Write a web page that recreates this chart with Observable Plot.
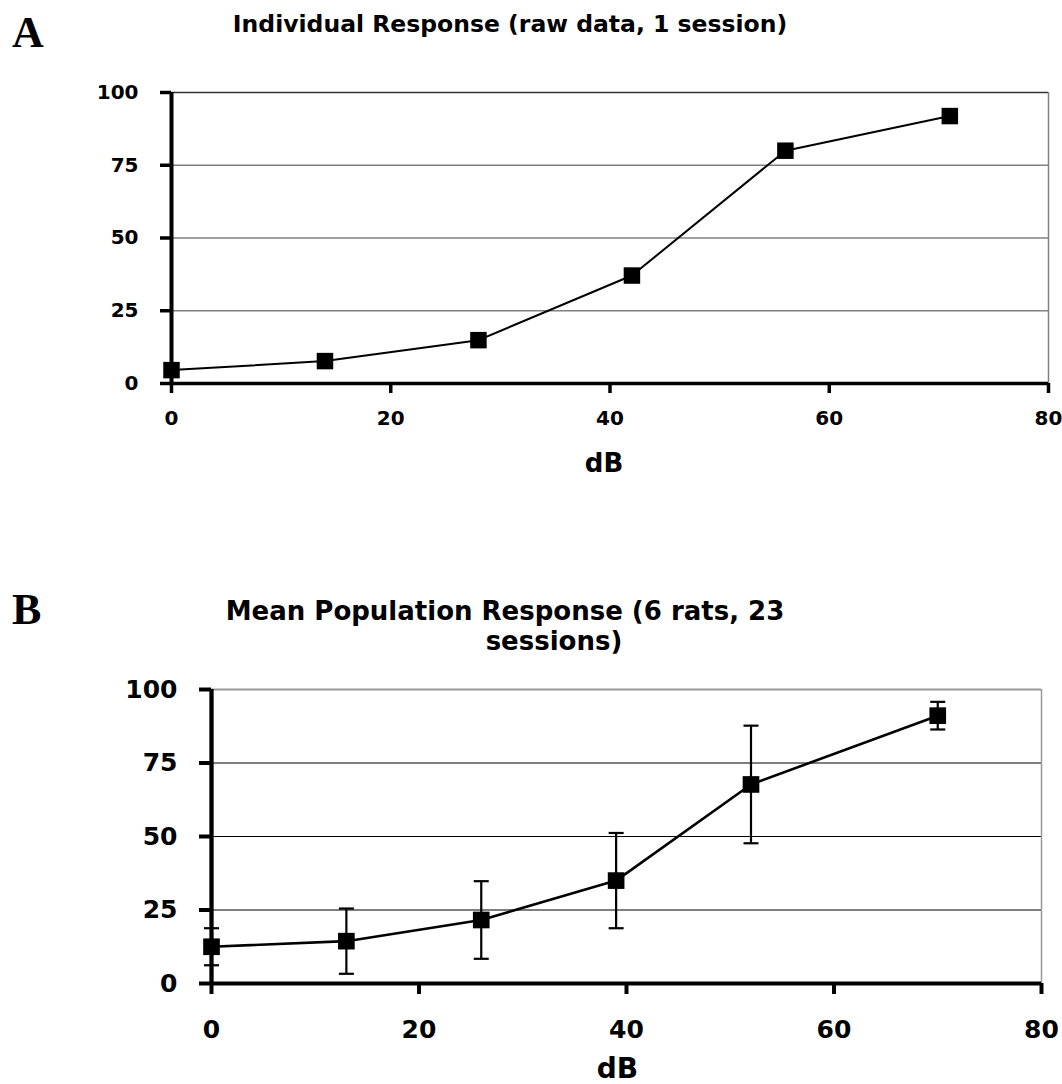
<!DOCTYPE html>
<html>
<head>
<meta charset="utf-8">
<script src="https://cdn.jsdelivr.net/npm/d3@7"></script>
<script src="https://cdn.jsdelivr.net/npm/@observablehq/plot@0.6"></script>
<style>
  body { margin: 0; background: #fff; }
  #page { position: relative; width: 1062px; height: 1084px; overflow: hidden; background: #fff;
          font-family: "DejaVu Sans", Verdana, sans-serif; color: #000; }
  .panel { position: absolute; left: 0; }
  .letter { position: absolute; font-family: "Liberation Serif", "Times New Roman", serif;
            font-weight: bold; font-size: 44px; line-height: 1; }
  .title { position: absolute; font-weight: bold; white-space: nowrap; line-height: 1;
           transform: translateX(-50%); }
</style>
</head>
<body>
<div id="page"></div>
<script>
// Panel A: one session, raw response (%) at each sound level (dB)
const dbA = [0, 14, 28, 42, 56, 71];
const respA = [4.6, 7.7, 14.9, 37.1, 80, 91.9];

// Panel B: population mean response (%) with error bars
const dbB = [0, 13, 26, 39, 52, 70];
const meanB = [12.5, 14.4, 21.6, 35.0, 67.7, 91.1];
const errB = [6.3, 11.1, 13.2, 16.2, 20.0, 4.7];

const xTicks = [0, 20, 40, 60, 80];
const yTicks = [0, 25, 50, 75, 100];
const xLabel = "dB";

const titleA = "Individual Response (raw data, 1 session)";
const titleB = ["Mean Population Response (6 rats, 23", "sessions)"];

const rowsA = dbA.map((x, i) => ({x, y: respA[i]}));
const rowsB = dbB.map((x, i) => ({x, y: meanB[i], lo: meanB[i] - errB[i], hi: meanB[i] + errB[i]}));

// horizontal cap for the error bars
const capSymbol = {
  draw(ctx, size) {
    const r = Math.sqrt(size / Math.PI);
    ctx.moveTo(-r, 0);
    ctx.lineTo(r, 0);
  }
};

const page = document.getElementById("page");

function addText(cls, text, left, top, size) {
  const el = document.createElement("div");
  el.className = cls;
  el.textContent = text;
  el.style.left = left + "px";
  el.style.top = top + "px";
  if (size) el.style.fontSize = size + "px";
  page.appendChild(el);
  return el;
}

const fontStack = "'DejaVu Sans', Verdana, sans-serif";

// ---------- Panel A ----------
const plotA = Plot.plot({
  width: 1062,
  height: 500,
  marginLeft: 171,
  marginRight: 14,
  marginTop: 92,
  marginBottom: 117,
  x: {domain: [0, 80]},
  y: {domain: [0, 100]},
  style: {fontFamily: fontStack, background: "white", color: "black", overflow: "visible"},
  marks: [
    Plot.ruleY([25, 50, 75], {stroke: "#808080", strokeWidth: 1.3}),
    Plot.ruleY([100], {stroke: "#333", strokeWidth: 1.3}),
    Plot.ruleX([80], {stroke: "#808080", strokeWidth: 1.5}),
    Plot.ruleX([0], {stroke: "black", strokeWidth: 4}),
    Plot.ruleY([0], {stroke: "black", strokeWidth: 3.5}),
    Plot.axisY({ticks: yTicks, tickSize: 11, tickPadding: 22, strokeWidth: 3.5,
                fontSize: 20, fontWeight: "bold", label: null}),
    Plot.axisX({ticks: xTicks, tickSize: 10, tickFormat: () => "", strokeWidth: 3.5, label: null}),
    // tick labels below the axis line
    Plot.text(xTicks, {x: d => d, y: () => 0, text: d => String(d), dy: 35,
                       fontSize: 20, fontWeight: "bold"}),
    Plot.text([xLabel], {x: () => 40, y: () => 0, text: d => d, dx: -6, dy: 80,
                         fontSize: 26, fontWeight: "bold"}),
    Plot.line(rowsA, {x: "x", y: "y", stroke: "black", strokeWidth: 2}),
    Plot.dot(rowsA, {x: "x", y: "y", symbol: "square", r: 9.3, fill: "black"})
  ]
});
plotA.classList.add("panel");
plotA.style.top = "0px";
page.appendChild(plotA);

// ---------- Panel B ----------
const plotB = Plot.plot({
  width: 1062,
  height: 524,
  marginLeft: 211,
  marginRight: 21,
  marginTop: 129,
  marginBottom: 101,
  x: {domain: [0, 80]},
  y: {domain: [0, 100]},
  style: {fontFamily: fontStack, background: "white", color: "black", overflow: "visible"},
  marks: [
    Plot.ruleY([25, 50, 75], {stroke: "black", strokeWidth: 1.1}),
    Plot.ruleY([100], {stroke: "#999", strokeWidth: 2}),
    Plot.ruleX([80], {stroke: "#999", strokeWidth: 1.5}),
    Plot.ruleX([0], {stroke: "black", strokeWidth: 4.3}),
    Plot.ruleY([0], {stroke: "black", strokeWidth: 4}),
    Plot.axisY({ticks: yTicks, tickSize: 12, tickPadding: 22, strokeWidth: 4,
                fontSize: 25, fontWeight: "bold", label: null}),
    Plot.axisX({ticks: xTicks, tickSize: 11, tickFormat: () => "", strokeWidth: 4, label: null}),
    Plot.text(xTicks, {x: d => d, y: () => 0, text: d => String(d), dy: 46,
                       fontSize: 25, fontWeight: "bold"}),
    Plot.text([xLabel], {x: () => 40, y: () => 0, text: d => d, dx: -9, dy: 86,
                         fontSize: 28, fontWeight: "bold"}),
    Plot.ruleX(rowsB, {x: "x", y1: "lo", y2: "hi", stroke: "black", strokeWidth: 2.2}),
    Plot.dot(rowsB, {x: "x", y: "lo", symbol: capSymbol, r: 7.5, fill: "none", stroke: "black", strokeWidth: 2.2}),
    Plot.dot(rowsB, {x: "x", y: "hi", symbol: capSymbol, r: 7.5, fill: "none", stroke: "black", strokeWidth: 2.2}),
    Plot.line(rowsB, {x: "x", y: "y", stroke: "black", strokeWidth: 2.6}),
    Plot.dot(rowsB, {x: "x", y: "y", symbol: "square", r: 9.4, fill: "black"})
  ]
});
plotB.classList.add("panel");
plotB.style.top = "560px";
page.appendChild(plotB);

// ---------- Titles and panel letters ----------
addText("letter", "A", 12, 11);
addText("letter", "B", 12, 588);
addText("title", titleA, 510, 13, 23.5);
addText("title", titleB[0], 505, 598, 26);
addText("title", titleB[1], 554, 628, 26);
</script>
</body>
</html>
